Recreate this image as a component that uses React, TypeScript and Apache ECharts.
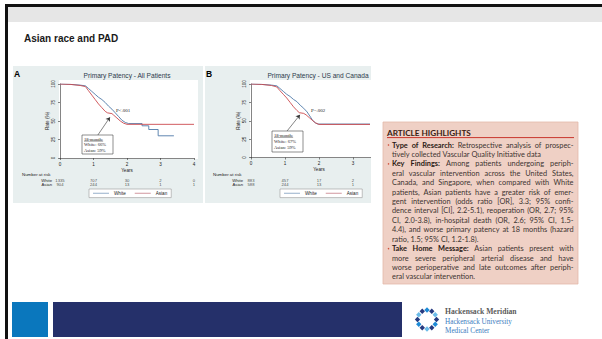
import React, { useEffect, useRef } from 'react';
import * as echarts from 'echarts';

// ---------- data ----------
const riskRows = ['White', 'Asian'];

const aWhite: [number, number][] = [
  [0, 100], [0.3, 99.5], [0.6, 98.5], [0.76, 97.5], [0.85, 94], [0.95, 90], [1.05, 86], [1.15, 82],
  [1.25, 79], [1.35, 75], [1.45, 70], [1.55, 66], [1.65, 61], [1.75, 56], [1.85, 51], [1.95, 48],
  [2.05, 46.5], [2.45, 46.5], [2.45, 43.5], [2.65, 43.5], [2.65, 38.5], [2.93, 38.5], [2.93, 30], [3.4, 30],
];
const aAsian: [number, number][] = [
  [0, 100], [0.3, 99.5], [0.6, 98], [0.76, 96.5], [0.85, 91], [0.95, 85], [1.05, 79], [1.15, 73],
  [1.25, 68], [1.35, 63], [1.42, 61], [1.55, 60], [1.6, 58], [1.7, 54], [1.8, 50], [1.9, 47],
  [2.0, 45.5], [4.0, 45.5],
];
const bWhite: [number, number][] = [
  [0, 100], [0.3, 99.5], [0.6, 98.5], [0.76, 97.5], [0.85, 94], [0.95, 90], [1.05, 86], [1.15, 83],
  [1.25, 79], [1.35, 76], [1.45, 71], [1.55, 67], [1.65, 62], [1.75, 55], [1.82, 50], [1.9, 47],
  [1.97, 45.5], [3.5, 45.5],
];
const bAsian: [number, number][] = [
  [0, 100], [0.3, 99.5], [0.6, 98], [0.76, 96], [0.85, 91], [0.95, 86], [1.05, 81], [1.15, 75],
  [1.25, 69], [1.35, 64], [1.42, 61], [1.55, 60], [1.62, 58], [1.72, 54], [1.82, 50], [1.9, 47],
  [2.0, 45], [3.5, 45],
];

const riskYearsA = [0, 1, 2, 3, 4];
const riskWhiteA = [1335, 707, 30, 2, 0];
const riskAsianA = [904, 244, 13, 1, 1];
const riskYearsB = [0, 1, 2, 3];
const riskWhiteB = [883, 457, 17, 2];
const riskAsianB = [588, 244, 13, 1];

const annotA = ['18-month:', 'White: 66%', 'Asian: 59%'];
const annotB = ['18-month:', 'White: 67%', 'Asian: 59%'];
const pValueA = 'P<.001';
const pValueB = 'P=.002';
const arrowA = [[1.13, 31], [1.49, 55]];
const arrowB = [[1.06, 36], [1.44, 58]];

const slideTitle = 'Asian race and PAD';
const titleA = 'Primary Patency - All Patients';
const titleB = 'Primary Patency - US and Canada';

const highlightTitle = 'ARTICLE HIGHLIGHTS';
const highlightHeads = ['Type of Research:', 'Key Findings:', 'Take Home Message:'];
const highlightParas = [
  [
    'Type of Research: Retrospective analysis of prospec-',
    'tively collected Vascular Quality Initiative data',
  ],
  [
    'Key Findings: Among patients undergoing periph-',
    'eral vascular intervention across the United States,',
    'Canada, and Singapore, when compared with White',
    'patients, Asian patients have a greater risk of emer-',
    'gent intervention (odds ratio [OR], 3.3; 95% confi-',
    'dence interval [CI], 2.2-5.1), reoperation (OR, 2.7; 95%',
    'CI, 2.0-3.8), in-hospital death (OR, 2.6; 95% CI, 1.5-',
    '4.4), and worse primary patency at 18 months (hazard',
    'ratio, 1.5; 95% CI, 1.2-1.8).',
  ],
  [
    'Take Home Message: Asian patients present with',
    'more severe peripheral arterial disease and have',
    'worse perioperative and late outcomes after periph-',
    'eral vascular intervention.',
  ],
];
const logoLines = ['Hackensack Meridian', 'Hackensack University', 'Medical Center'];

// ---------- styles ----------
const SANS = '"Liberation Sans", Arial, sans-serif';
const SERIF = '"Liberation Serif", "Times New Roman", serif';
const HL = 'Lato, "Open Sans", sans-serif';
const C_WHITE = '#4f79a8';
const C_ASIAN = '#cc4a4e';
const AX = '#333';

let mctx: CanvasRenderingContext2D | null = null;
function measure(text: string, size: number, weight: string, family: string) {
  if (!mctx) mctx = document.createElement('canvas').getContext('2d');
  if (!mctx) return text.length * size * 0.5;
  mctx.font = `${weight} ${size}px ${family}`;
  return mctx.measureText(text).width;
}

function T(text: string, x: number, y: number, o: any = {}) {
  return {
    type: 'text', x, y, z: o.z ?? 30, silent: true,
    style: {
      text, fill: o.fill || '#000', fontSize: o.size || 5, fontFamily: o.family || SANS,
      fontWeight: o.weight || 'normal', align: o.align || 'left', verticalAlign: o.va || 'middle',
    },
  };
}
function R(x: number, y: number, w: number, h: number, fill: string, o: any = {}) {
  return {
    type: 'rect', z: o.z ?? -5, silent: true,
    shape: { x, y, width: w, height: h },
    style: { fill, stroke: o.stroke, lineWidth: o.lw || 0 },
  };
}

function kmAxes(grid: number, max: number) {
  const base = {
    axisLine: { show: true, lineStyle: { color: AX, width: 0.6 } },
    axisTick: { show: true, length: 2, lineStyle: { color: AX, width: 0.6 } },
    splitLine: { show: false },
  };
  return {
    x: {
      ...base, gridIndex: grid, type: 'value', min: 0, max, interval: 1,
      axisLabel: { fontSize: 4.6, margin: 3.5, color: '#222', fontFamily: SANS },
      name: 'Years', nameLocation: 'middle', nameGap: 9.5,
      nameTextStyle: { fontSize: 4.6, color: '#222', fontFamily: SANS },
    },
    y: {
      ...base, gridIndex: grid, type: 'value', min: 0, max: 100, interval: 25,
      axisLabel: { fontSize: 4.6, margin: 4, color: '#222', fontFamily: SANS, rotate: 90 },
      name: 'Rate (%)', nameLocation: 'middle', nameGap: 10, nameRotate: 90,
      nameTextStyle: { fontSize: 4.6, color: '#222', fontFamily: SANS },
    },
  };
}
function riskAxes(grid: number, max: number) {
  return {
    x: { gridIndex: grid, type: 'value', min: 0, max, show: false },
    y: {
      gridIndex: grid, type: 'category', data: riskRows, inverse: true,
      axisLine: { show: false }, axisTick: { show: false },
      axisLabel: { fontSize: 4.2, margin: 8, color: '#222', fontFamily: SANS, interval: 0, hideOverlap: false },
    },
  };
}
function riskSeries(xi: number, years: number[], w: number[], a: number[]) {
  const data: any[] = [];
  years.forEach((yr, i) => data.push([yr, 0, w[i]]));
  years.forEach((yr, i) => data.push([yr, 1, a[i]]));
  return {
    type: 'scatter', xAxisIndex: xi, yAxisIndex: xi, data, symbolSize: 0.01,
    itemStyle: { color: 'rgba(0,0,0,0)' }, silent: true,
    label: {
      show: true, position: 'inside', formatter: (p: any) => String(p.value[2]),
      fontSize: 4.2, color: '#222', fontFamily: SANS,
    },
  };
}
function kmSeries(xi: number, white: any, asian: any, arrow: number[][]) {
  return [
    {
      type: 'line', name: 'White', xAxisIndex: xi, yAxisIndex: xi, data: white, symbol: 'none',
      lineStyle: { color: C_WHITE, width: 0.9 }, itemStyle: { color: C_WHITE }, z: 3,
    },
    {
      type: 'line', name: 'Asian', xAxisIndex: xi, yAxisIndex: xi, data: asian, symbol: 'none',
      lineStyle: { color: C_ASIAN, width: 0.9 }, itemStyle: { color: C_ASIAN }, z: 4,
      markLine: {
        silent: true, symbol: ['none', 'arrow'], symbolSize: 4, animation: false,
        label: { show: false }, lineStyle: { color: '#333', width: 0.6, type: 'solid' },
        data: [[{ coord: arrow[0] }, { coord: arrow[1] }]],
      },
    },
  ];
}
function legendFor(left: number) {
  return {
    left, top: 189, orient: 'horizontal', selectedMode: false, icon: 'rect',
    itemWidth: 16, itemHeight: 1.2, itemGap: 9, padding: [1.8, 4],
    borderColor: '#999', borderWidth: 0.6, backgroundColor: '#fff',
    textStyle: { fontSize: 4.6, color: '#222', fontFamily: SANS },
    data: [
      { name: 'White', itemStyle: { color: '#a7bdd3' } },
      { name: 'Asian', itemStyle: { color: '#d9a7ae' } },
    ],
  };
}
function annotBox(x: number, y: number, w: number, h: number, lines: string[], rows: number[]) {
  const els: any[] = [R(x, y, w, h, '#fff', { stroke: '#444', lw: 0.6, z: 20 })];
  lines.forEach((t, i) => els.push(T(t, x + 2, rows[i], { size: 4.6, family: SERIF, fill: '#222' })));
  const uw = measure(lines[0], 4.6, 'normal', SERIF);
  els.push({
    type: 'line', z: 31, silent: true,
    shape: { x1: x + 2, y1: rows[0] + 2.2, x2: x + 2 + uw, y2: rows[0] + 2.2 },
    style: { stroke: '#222', lineWidth: 0.4 },
  });
  return els;
}

function highlightEls() {
  const els: any[] = [];
  const boxX = 383, boxY = 122, boxW = 195, boxH = 162;
  els.push(R(boxX, boxY, boxW, boxH, '#efd0c5', { stroke: '#e3b9aa', lw: 0.8, z: 50 }));
  els.push(T(highlightTitle, 387, 132.5, { size: 8.2, weight: 'bold', family: HL, fill: '#3a1c12', z: 52 }));
  els.push({
    type: 'line', z: 52, silent: true, shape: { x1: 387, y1: 137.6, x2: 574, y2: 137.6 },
    style: { stroke: '#c8342c', lineWidth: 1 },
  });
  const left = 392, right = 573.5;
  let size = (10 * 149) / measure(highlightParas[0][1], 10, 'normal', HL);
  size = Math.max(5.5, Math.min(7.5, size));
  let li = 0;
  highlightParas.forEach((para, pi) => {
    const headWords = highlightHeads[pi].split(' ').length;
    para.forEach((line, j) => {
      const y = 145 + li * 9.42;
      if (j === 0) {
        els.push({
          type: 'circle', z: 52, silent: true, shape: { cx: 388.5, cy: y, r: 0.75 },
          style: { fill: '#d0513c' },
        });
      }
      const words = line.split(' ');
      const info = words.map((w, k) => {
        const bold = j === 0 && k < headWords;
        return { w, bold, width: measure(w, size, bold ? 'bold' : 'normal', HL) };
      });
      const total = info.reduce((s, v) => s + v.width, 0);
      const last = j === para.length - 1;
      const space = measure(' ', size, 'normal', HL);
      let gap = last ? space : (right - left - total) / Math.max(1, words.length - 1);
      if (gap < space * 0.6) gap = space * 0.6;
      let x = left;
      info.forEach((v) => {
        els.push(T(v.w, x, y, {
          size, family: HL, weight: v.bold ? 'bold' : 'normal',
          fill: v.bold ? '#2a1a14' : '#3d3431', z: 52,
        }));
        x += v.width + gap;
      });
      li++;
    });
  });
  return els;
}

function logoEls() {
  const els: any[] = [];
  const cx = 427, cy = 319.5, r = 9.5;
  const cols = ['#263a80', '#1d8ad6', '#263a80', '#6bbbe8'];
  for (let i = 0; i < 12; i++) {
    const a = (i / 12) * Math.PI * 2;
    els.push({
      type: 'rect', z: 30, silent: true, x: cx + r * Math.cos(a), y: cy + r * Math.sin(a),
      rotation: Math.PI / 4, shape: { x: -1.9, y: -1.9, width: 3.8, height: 3.8 },
      style: { fill: cols[i % 4] },
    });
  }
  els.push(T(logoLines[0], 445, 311.5, { size: 7.6, family: SERIF, weight: 'bold', fill: '#5a5a5a' }));
  els.push(T(logoLines[1], 445, 321.5, { size: 7.2, family: SERIF, fill: '#3b7cc0' }));
  els.push(T(logoLines[2], 445, 331, { size: 7.2, family: SERIF, fill: '#3b7cc0' }));
  return els;
}

function buildOption() {
  const kA = kmAxes(0, 4), kB = kmAxes(1, 4), rA = riskAxes(2, 4), rB = riskAxes(3, 4);
  const graphic: any[] = [
    R(5, 4, 597, 3, '#111', { z: 60 }),
    R(5, 4, 3, 335, '#111', { z: 60 }),
    R(8, 7, 594, 15, '#e6e6e6'),
    T(slideTitle, 24, 38, { size: 10, weight: 'bold', fill: '#1a1a1a' }),
    R(13, 66, 190, 137, '#e8efef', { z: -10 }),
    R(205, 66, 166, 137, '#e8efef', { z: -10 }),
    R(59, 80, 139, 79, '#ffffff', { z: -8 }),
    R(250, 80, 121, 78, '#ffffff', { z: -8 }),
    R(371, 60, 12, 150, '#ffffff', { z: 40 }),
    T('A', 14, 73.5, { size: 8.5, weight: 'bold' }),
    T('B', 206, 73.5, { size: 8.5, weight: 'bold' }),
    T(titleA, 127, 75.5, { size: 6.6, fill: '#2c3a4c', align: 'center' }),
    T(titleB, 318, 75.5, { size: 6.6, fill: '#2c3a4c', align: 'center' }),
    T('Number at risk', 22, 174.5, { size: 4.4, fill: '#222' }),
    T('Number at risk', 213, 174.5, { size: 4.4, fill: '#222' }),
    T(pValueA, 116, 110.7, { size: 5, family: SERIF, fill: '#222' }),
    T(pValueB, 311, 110.2, { size: 5, family: SERIF, fill: '#222' }),
    ...annotBox(82, 135, 31, 19, annotA, [139, 144.7, 150]),
    ...annotBox(272, 131, 31, 21, annotB, [135.2, 141.3, 147.3]),
    ...highlightEls(),
    R(12, 302, 36, 35, '#0a77bd', { z: 20 }),
    R(53, 302, 349, 35, '#25306a', { z: 20 }),
    ...logoEls(),
  ];
  return {
    animation: false,
    backgroundColor: '#ffffff',
    grid: [
      { left: 60, top: 84, width: 134, height: 74 },
      { left: 251, top: 84, width: 136, height: 73.5 },
      { left: 60, top: 178, width: 134, height: 9 },
      { left: 251, top: 178, width: 136, height: 9 },
    ],
    xAxis: [kA.x, kB.x, rA.x, rB.x],
    yAxis: [kA.y, kB.y, rA.y, rB.y],
    legend: [legendFor(89), legendFor(280)],
    series: [
      ...kmSeries(0, aWhite, aAsian, arrowA),
      ...kmSeries(1, bWhite, bAsian, arrowB),
      riskSeries(2, riskYearsA, riskWhiteA, riskAsianA),
      riskSeries(3, riskYearsB, riskWhiteB, riskAsianB),
    ],
    graphic,
  };
}

export default function App() {
  const ref = useRef<HTMLDivElement>(null);
  useEffect(() => {
    if (!ref.current) return;
    const chart = echarts.init(ref.current, null, { renderer: 'svg' });
    chart.setOption(buildOption() as any);
    return () => chart.dispose();
  }, []);
  return (
    <div
      ref={ref}
      style={{ position: 'fixed', left: 0, top: 0, width: 602, height: 339, background: '#fff' }}
    />
  );
}
